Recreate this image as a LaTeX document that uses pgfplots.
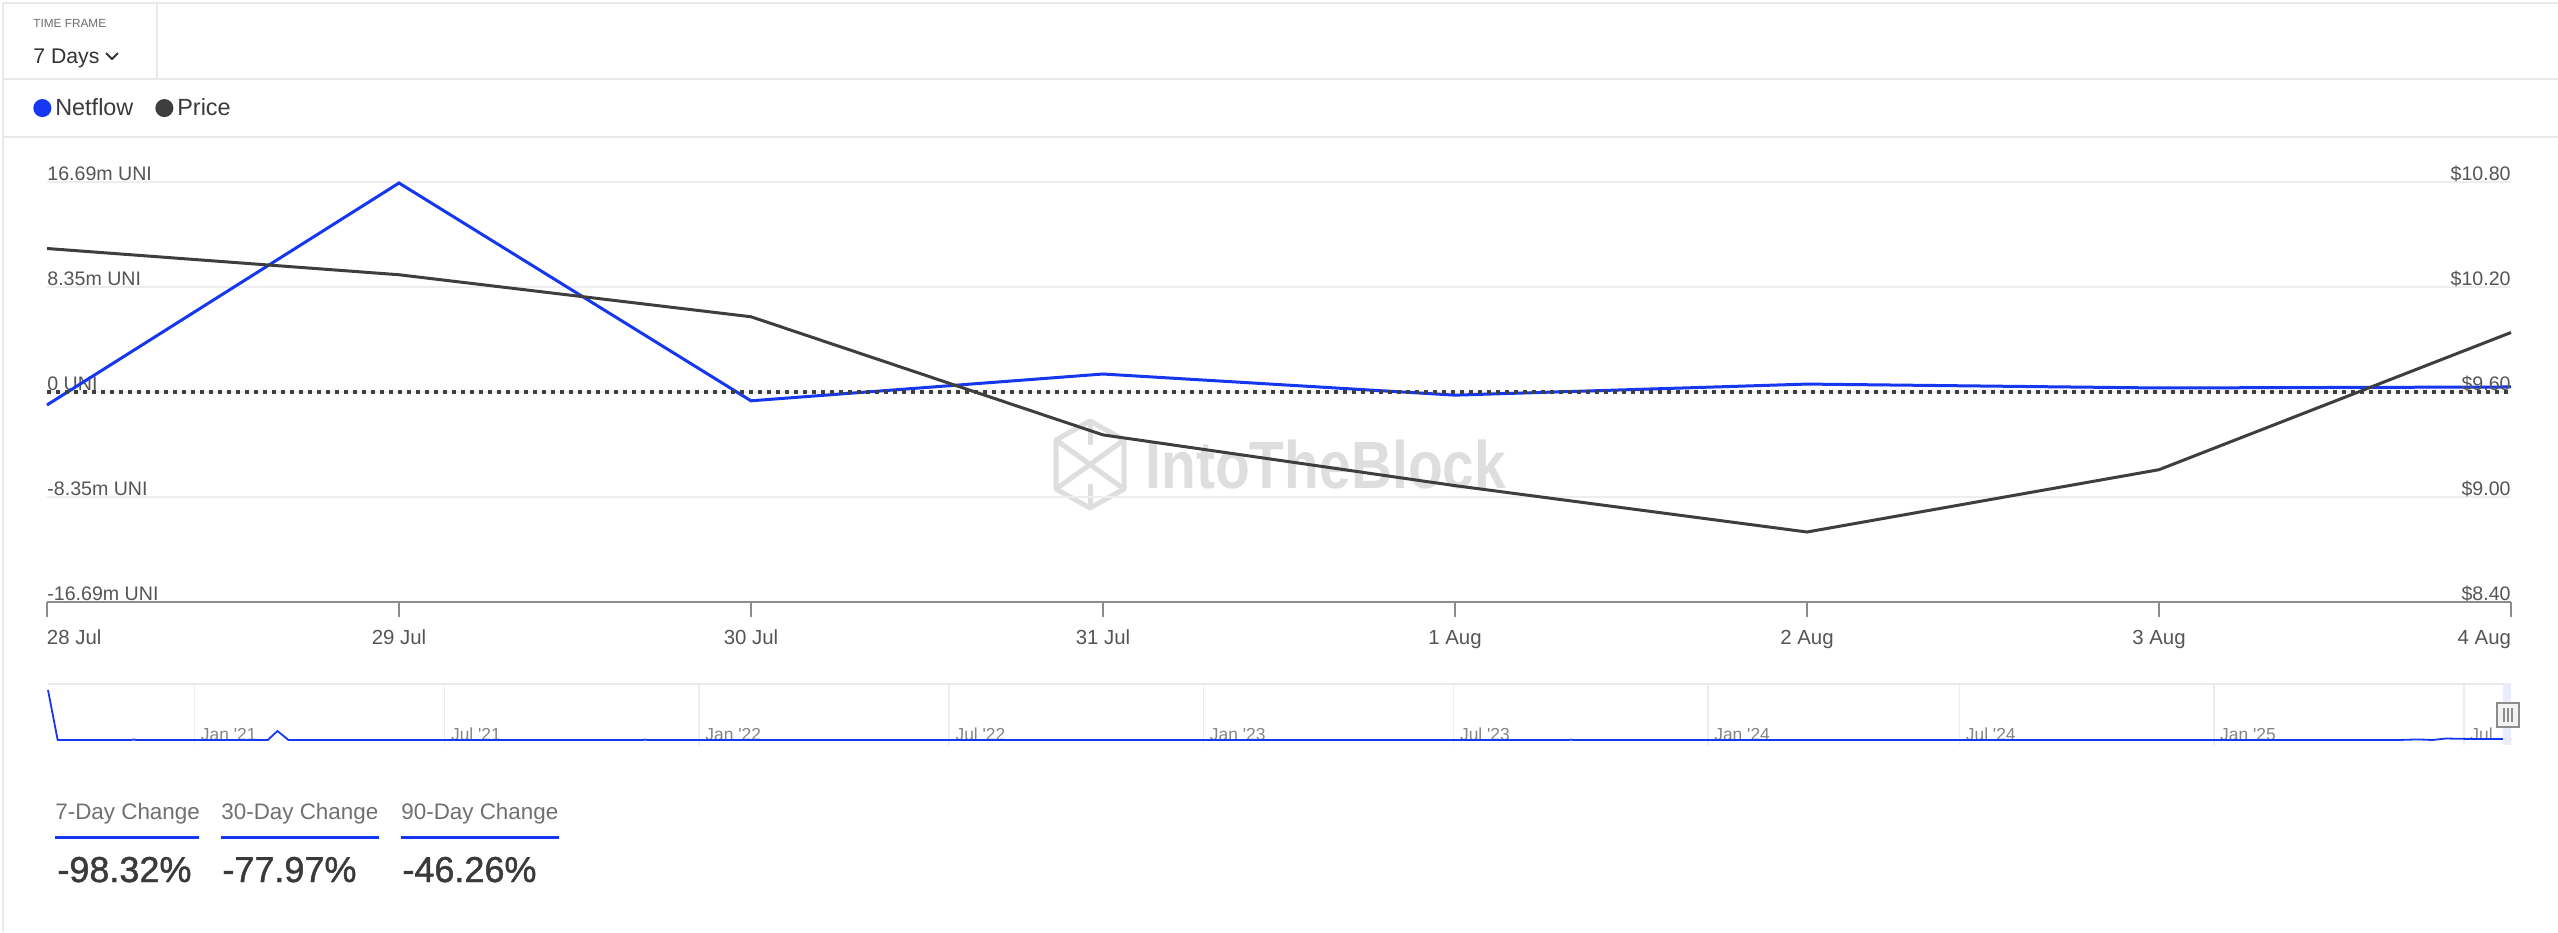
\documentclass[border=0pt]{standalone}
\usepackage{fontspec}
\setmainfont{Liberation Sans}
\newfontfamily\medfont{Liberation Sans}[FakeBold=1.2]
\usepackage{pgfplots}
\usepackage{pgfplotstable}
\pgfplotsset{compat=1.18}

\definecolor{netblue}{HTML}{1637F0}
\definecolor{pricegray}{HTML}{3E3E3E}
\definecolor{gridgray}{HTML}{EDEDED}
\definecolor{axisgray}{HTML}{8C8C8C}
\definecolor{labelgray}{HTML}{555555}
\definecolor{bordergray}{HTML}{EAEAEA}
\definecolor{wm}{HTML}{DEDEDE}
\definecolor{navgray}{HTML}{858585}
\definecolor{statgray}{HTML}{707070}
\definecolor{valgray}{HTML}{3A3A3A}
\definecolor{hdrgray}{HTML}{6D6D6D}
\definecolor{darktext}{HTML}{333333}

\pgfplotstableread{
x net
0 -1.03
1 16.61
2 -0.70
3 1.43
4 -0.25
5 0.63
6 0.32
7 0.40
}\netflow

\pgfplotstableread{
x price
0 10.42
1 10.27
2 10.03
3 9.355
4 9.065
5 8.80
6 9.156
7 9.94
}\pricetab

\pgfplotstableread{
d v
0 50
7 0
60 0
62 0.5
64 0
159 0
166 9
174 0
430 0
432 0.4
434 0
1100 0
1102 0.4
1104 0
1700 0
1715 0.6
1725 0
1735 1.5
1745 1.2
1760 1.0
1782 1.0
}\navtab

\begin{document}
\begin{tikzpicture}
\begin{scope}[x=0.5pt,y=-0.5pt]
\fill[white] (0,0) rectangle (2558,932);
\path[use as bounding box] (0,0) rectangle (2558,932);
% borders
\draw[bordergray, line width=0.8pt] (3,3) -- (2558,3);
\draw[bordergray, line width=0.8pt] (3,79) -- (2558,79);
\draw[bordergray, line width=0.8pt] (3,137) -- (2558,137);
\draw[bordergray, line width=0.8pt] (157,3) -- (157,79);
\draw[bordergray, line width=0.8pt] (3,3) -- (3,932);
% header
\node[anchor=base west, inner sep=0pt, font=\fontsize{5.9}{7}\selectfont, text=hdrgray] at (33,27) {TIME FRAME};
\node[anchor=base west, inner sep=0pt, font=\fontsize{10.6}{13}\selectfont, text=darktext] at (33,63) {7 Days};
\draw[darktext, line width=1pt] (106,53) -- (112,59) -- (118,53);
% watermark
\begin{scope}[wm, line width=2.5pt, line join=round]
\draw (1090,421) -- (1124,440) -- (1124,489) -- (1090,508) -- (1056,489) -- (1056,440) -- cycle;
\draw (1056,440) -- (1124,489);
\draw (1124,440) -- (1056,489);
\draw (1090,421) -- (1090,445);
\draw (1090,484) -- (1090,508);
\end{scope}
\node[anchor=base west, inner sep=0pt, text=wm, font=\fontsize{33.5}{36}\bfseries\selectfont] at (1145,488) {\scalebox{0.85}[1]{IntoTheBlock}};
\end{scope}

% Netflow axis
\begin{axis}[
  at={(23.5pt,-301pt)}, anchor=south west,
  scale only axis, width=1232pt, height=210pt,
  xmin=0, xmax=7, ymin=-16.69, ymax=16.69,
  axis x line*=bottom, axis y line*=left,
  x axis line style={draw=axisgray, line width=1pt, -},
  y axis line style={draw=none},
  xtick={0,...,7},
  xticklabels={\rlap{28 Jul},29 Jul,30 Jul,31 Jul,1 Aug,2 Aug,3 Aug,\llap{4 Aug}},
  xtick align=outside,
  major tick length=7.5pt,
  xtick style={draw=axisgray, line width=1pt},
  xticklabel style={font=\fontsize{10.2}{12}\selectfont, text=labelgray, yshift=-3pt},
  ytick={-16.69,-8.345,0,8.345,16.69},
  yticklabels={-16.69m UNI,-8.35m UNI,0 UNI,8.35m UNI,16.69m UNI},
  ytick style={draw=none},
  yticklabel style={anchor=base west, inner sep=0pt, yshift=1pt, font=\fontsize{9.8}{11}\selectfont, text=labelgray},
  ymajorgrids, grid style={draw=gridgray, line width=1pt},
  clip=false,
  legend image code/.code={\fill[#1] (3.75pt,0pt) circle (3.75pt);},
  legend style={at={(axis description cs:-0.0057,1.176)}, anchor=west, draw=none, fill=none, inner sep=0pt,
    font=\fontsize{11.7}{13}\selectfont, text=valgray, legend columns=2,
    /tikz/every even column/.append style={column sep=9pt}},
]
\addplot[netblue, line width=1.5pt] table[x=x, y=net] {\netflow};
\addlegendentry{Netflow}
\addlegendimage{pricegray, line width=1.5pt}
\addlegendentry{Price}
\end{axis}

% Price axis
\begin{axis}[
  at={(23.5pt,-301pt)}, anchor=south west,
  scale only axis, width=1232pt, height=210pt,
  xmin=0, xmax=7, ymin=8.4, ymax=10.8,
  axis x line=none, axis y line*=right,
  y axis line style={draw=none}, ytick style={draw=none},
  ytick={8.4,9.0,9.6,10.2,10.8},
  yticklabels={\$8.40,\$9.00,\$9.60,\$10.20,\$10.80},
  yticklabel style={anchor=base east, inner sep=0pt, yshift=1pt, font=\fontsize{9.8}{11}\selectfont, text=labelgray},
  clip=false,
]
\addplot[pricegray, line width=1.5pt] table[x=x, y=price] {\pricetab};
\addplot[color=pricegray, line width=2pt, dash pattern=on 2pt off 2.5pt] coordinates {(0,9.6) (7,9.6)};
\end{axis}

% Navigator
\begin{axis}[
  at={(24pt,-372.5pt)}, anchor=south west,
  scale only axis, width=1231.5pt, height=30.5pt,
  xmin=0, xmax=1782, ymin=-5, ymax=56,
  axis line style={draw=none},
  ytick=\empty,
  xtick={106,287,471,652,836,1017,1201,1383,1567,1748},
  xticklabels={Jan \textquotesingle21,Jul \textquotesingle21,Jan \textquotesingle22,Jul \textquotesingle22,Jan \textquotesingle23,Jul \textquotesingle23,Jan \textquotesingle24,Jul \textquotesingle24,Jan \textquotesingle25,Jul..},
  xtick style={draw=none},
  xmajorgrids, grid style={draw=gridgray, line width=0.8pt},
  xticklabel style={anchor=base west, inner sep=0pt, xshift=3pt, yshift=2.5pt, font=\fontsize{8.7}{10}\selectfont, text=navgray},
  clip=false,
]
\addplot[netblue, line width=0.9pt] table[x=d, y=v] {\navtab};
\end{axis}

\begin{scope}[x=0.5pt,y=-0.5pt]
\draw[bordergray, line width=0.8pt] (48,684) -- (2511,684);
\fill[blue!8] (2503,684) rectangle (2511,745);
\draw[axisgray, fill=white!95!black, line width=0.6pt] (2497,703) rectangle (2519,727);
\draw[axisgray, line width=0.6pt] (2504,708) -- (2504,722) (2508,708) -- (2508,722) (2512,708) -- (2512,722);
% stats
\node[anchor=base west, inner sep=0pt, font=\fontsize{11.2}{13}\selectfont, text=statgray] at (55,819) {7-Day Change};
\node[anchor=base west, inner sep=0pt, font=\fontsize{11.2}{13}\selectfont, text=statgray] at (221,819) {30-Day Change};
\node[anchor=base west, inner sep=0pt, font=\fontsize{11.2}{13}\selectfont, text=statgray] at (401,819) {90-Day Change};
\draw[netblue, line width=1.5pt] (55,837) -- (199,837);
\draw[netblue, line width=1.5pt] (221,837) -- (379,837);
\draw[netblue, line width=1.5pt] (401,837) -- (559,837);
\node[anchor=base west, inner sep=0pt, font=\medfont\fontsize{18}{20}\selectfont, text=valgray] at (57,882) {-98.32\%};
\node[anchor=base west, inner sep=0pt, font=\medfont\fontsize{18}{20}\selectfont, text=valgray] at (222,882) {-77.97\%};
\node[anchor=base west, inner sep=0pt, font=\medfont\fontsize{18}{20}\selectfont, text=valgray] at (402,882) {-46.26\%};
\end{scope}
\end{tikzpicture}
\end{document}
